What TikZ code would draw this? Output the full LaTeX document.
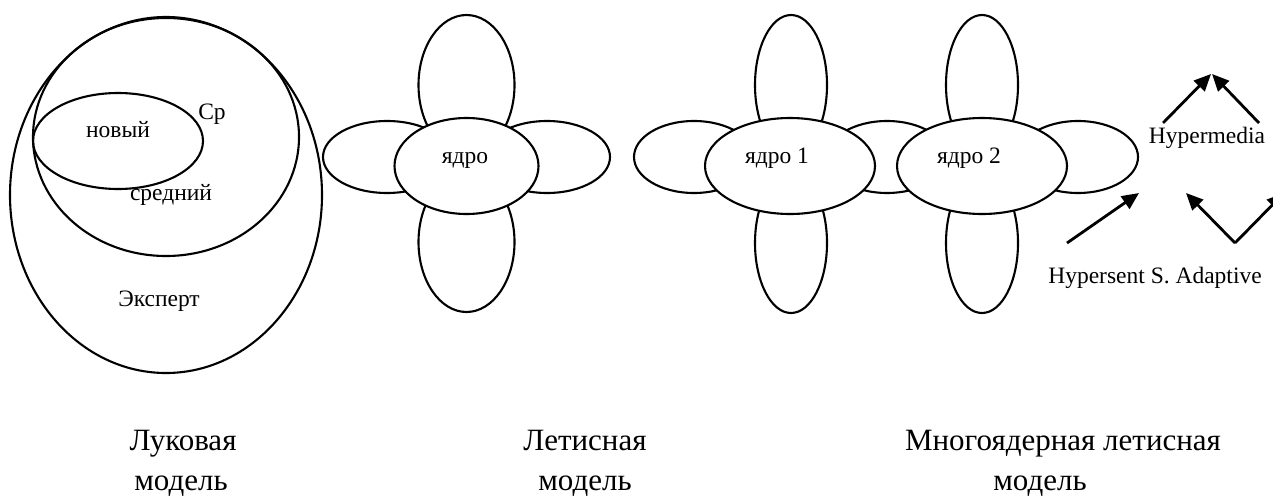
\documentclass[tikz,border=0pt]{standalone}
\usepackage{fontspec}
\setmainfont{Liberation Serif}
\usetikzlibrary{shapes.geometric,arrows.meta}
\tikzset{
  oval/.style={draw, ellipse, line width=2.1pt, inner sep=0pt},
  petal/.style={oval, fill=white},
  lbl/.style={font=\fontsize{23.5}{28}\selectfont, inner sep=0pt, anchor=base},
  captext/.style={font=\fontsize{31}{36}\selectfont, inner sep=0pt, anchor=base},
  arr/.style={line width=2.8pt, -{Triangle[length=17pt,width=15pt]}}
}
\begin{document}
\begin{tikzpicture}[x=1pt,y=-1pt]
\clip (0,0) rectangle (1273,495);
\useasboundingbox (0,0) rectangle (1273,495);
% onion model
\node[oval, minimum width=312pt, minimum height=356pt] (outer) at (166,195) {};
\node[oval, minimum width=266pt, minimum height=238pt] (mid) at (166,137) {};
\node[oval, minimum width=170pt, minimum height=96pt] (inner) at (118,141) {};
\node[lbl] (tnew) at (118,137) {новый};
\node[lbl] (tsr) at (212,119) {Ср};
\node[lbl] (tmid) at (171,200) {средний};
\node[lbl] (texp) at (159,306) {Эксперт};
% lattice model
\node[petal, minimum width=96pt, minimum height=140pt] (p1t) at (466.5,85) {};
\node[petal, minimum width=96pt, minimum height=140pt] (p1b) at (466.5,242) {};
\node[petal, minimum width=128pt, minimum height=72pt] (p1l) at (387,157) {};
\node[petal, minimum width=126pt, minimum height=72pt] (p1r) at (547,157) {};
\node[petal, minimum width=144pt, minimum height=96pt] (core) at (466.5,166) {};
\node[lbl] (tcore) at (465,163) {ядро};
% multi-core lattice model
\node[petal, minimum width=72pt, minimum height=140pt] (q1t) at (791,85) {};
\node[petal, minimum width=72pt, minimum height=140pt] (q1b) at (791,243) {};
\node[petal, minimum width=72pt, minimum height=140pt] (q2t) at (982,85) {};
\node[petal, minimum width=72pt, minimum height=140pt] (q2b) at (982,243) {};
\node[petal, minimum width=120pt, minimum height=72pt] (ql) at (694,157) {};
\node[petal, minimum width=120pt, minimum height=72pt] (qm) at (887,157) {};
\node[petal, minimum width=120pt, minimum height=72pt] (qr) at (1078,157) {};
\node[petal, minimum width=170pt, minimum height=96pt] (core1) at (790,166) {};
\node[petal, minimum width=170pt, minimum height=96pt] (core2) at (982,166) {};
\node[lbl] (tc1) at (777,163) {ядро 1};
\node[lbl] (tc2) at (969,163) {ядро 2};
% arrows
\coordinate (a1s) at (1163,123);
\coordinate (a1e) at (1211,74);
\coordinate (a2s) at (1259,123);
\coordinate (a2e) at (1212,74);
\coordinate (a3s) at (1067,243);
\coordinate (a3e) at (1139,193);
\coordinate (vb) at (1235,243);
\coordinate (vl) at (1186,193);
\coordinate (vr) at (1284,193);
\draw[arr] (a1s) -- (a1e);
\draw[arr] (a2s) -- (a2e);
\draw[arr] (a3s) -- (a3e);
\draw[arr] (vb) -- (vl);
\draw[arr] (vb) -- (vr);
\node[lbl] (thm) at (1207,143) {Hypermedia};
\node[lbl] (ths) at (1155,283) {Hypersent S. Adaptive};
% captions
\node[captext] (c1a) at (183,450) {Луковая};
\node[captext] (c1b) at (181,490) {модель};
\node[captext] (c2a) at (585,450) {Летисная};
\node[captext] (c2b) at (585,490) {модель};
\node[captext] (c3a) at (1063,450) {Многоядерная летисная};
\node[captext] (c3b) at (1040,490) {модель};
\end{tikzpicture}
\end{document}
